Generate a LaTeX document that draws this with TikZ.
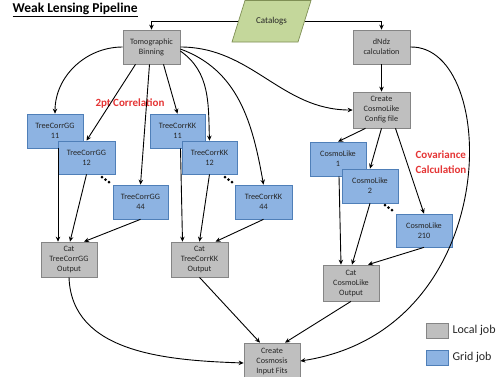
\documentclass[tikz,border=0pt]{standalone}
\usepackage{fontspec}
\setmainfont{Carlito}
\usetikzlibrary{arrows.meta,shapes.geometric}
\definecolor{lfill}{HTML}{BFBFBF}
\definecolor{ldraw}{HTML}{858585}
\definecolor{gfill}{HTML}{8DB3E2}
\definecolor{gdraw}{HTML}{4F7FB8}
\definecolor{cfill}{HTML}{C4D79B}
\definecolor{cdraw}{HTML}{7F8F55}
\definecolor{redtxt}{HTML}{E53535}
\tikzset{
  jobbox/.style={draw, line width=0.7pt, align=center, inner sep=0pt,
    font=\fontsize{8.2}{10}\selectfont, text=black!85},
  local/.style={jobbox, fill=lfill, draw=ldraw},
  grid/.style={jobbox, fill=gfill, draw=gdraw},
  conn/.style={line width=0.9pt, -{Stealth[length=5pt,width=4.5pt]}},
  dotmark/.style={fill=black, draw=none, circle, inner sep=0pt, minimum size=3pt},
}
\begin{document}
\begin{tikzpicture}[x=1pt,y=-1pt]
\useasboundingbox (0,0) rectangle (501,376);
\fill[white] (0,0) rectangle (501,376);
\begin{scope}
\clip (0,0) rectangle (501,376);
% title
\node[anchor=west, font=\bfseries\fontsize{13.5}{15}\selectfont] (title) at (9,10) {\underline{Weak Lensing Pipeline}};
% catalogs parallelogram
\draw[fill=cfill, draw=cdraw, line width=0.7pt] (245,0.5) -- (311,0.5) -- (298,42) -- (232,42) -- cycle;
\node[minimum width=66pt, minimum height=20pt, inner sep=0pt, font=\fontsize{9}{11}\selectfont, text=black!85] (catalogs) at (271.5,21) {Catalogs};
% local nodes
\node[local, minimum width=57pt, minimum height=34pt] (tomo) at (151.5,47) {Tomographic\\Binning};
\node[local, minimum width=57pt, minimum height=34pt] (dndz) at (381.5,47) {dNdz\\calculation};
\node[local, minimum width=57pt, minimum height=36pt] (config) at (381.5,110) {Create\\CosmoLike\\Config file};
\node[local, minimum width=56pt, minimum height=35pt] (catgg) at (69,259.5) {Cat\\TreeCorrGG\\Output};
\node[local, minimum width=57pt, minimum height=35pt] (catkk) at (199.5,259.5) {Cat\\TreeCorrKK\\Output};
\node[local, minimum width=56pt, minimum height=36pt] (catcl) at (351,283) {Cat\\CosmoLike\\Output};
\node[local, minimum width=56pt, minimum height=36pt] (cosmosis) at (272,361) {Create\\Cosmosis\\Input Fits};
% grid nodes
\node[grid, minimum width=56pt, minimum height=34pt] (gg11) at (55,131) {TreeCorrGG\\11};
\node[grid, minimum width=57pt, minimum height=33pt] (gg12) at (86.5,157.5) {TreeCorrGG\\12};
\node[grid, minimum width=55pt, minimum height=34pt] (gg44) at (140.5,202) {TreeCorrGG\\44};
\node[grid, minimum width=55pt, minimum height=34pt] (kk11) at (177.5,131) {TreeCorrKK\\11};
\node[grid, minimum width=55pt, minimum height=33pt] (kk12) at (209.5,157.5) {TreeCorrKK\\12};
\node[grid, minimum width=57pt, minimum height=34pt] (kk44) at (263.5,202) {TreeCorrKK\\44};
\node[grid, minimum width=56pt, minimum height=34pt] (cl1) at (338,159) {CosmoLike\\1};
\node[grid, minimum width=56pt, minimum height=34pt] (cl2) at (370,186) {CosmoLike\\2};
\node[grid, minimum width=56pt, minimum height=33pt] (cl210) at (424,230.5) {CosmoLike\\210};
% red labels
\node[font=\bfseries\fontsize{11}{13}\selectfont, text=redtxt] (twopt) at (130,103) {2pt Correlation};
\node[font=\bfseries\fontsize{11}{15.5}\selectfont, text=redtxt, align=left] (cov) at (441,162) {Covariance\\Calculation};
% dots
\foreach \x/\y in {102/177,105.5/179.5,109/182,225/177,228.5/179.5,232/182,385/205,388.5/207.5,392/210}
  \node[dotmark] at (\x,\y) {};
% connectors
\draw[conn] (catalogs.west) -| (tomo.north);
\draw[conn] (catalogs.east) -| (dndz.north);
\draw[conn] (tomo.west) to[out=180,in=90] (gg11.north);
\draw[conn] ([xshift=-16pt]tomo.south) -- (gg12.north);
\draw[conn] ([xshift=-2pt]tomo.south) -- (gg44.north);
\draw[conn] ([xshift=12pt]tomo.south) -- (kk11.north);
\draw[conn] ([yshift=-4pt]tomo.east) to[out=-35,in=92] (kk12.north);
\draw[conn] ([yshift=-2pt]tomo.east) to[out=-20,in=100] (kk44.north);
\draw[conn] (tomo.east) to[out=0,in=180] (config.west);
\draw[conn] (dndz.south) -- (config.north);
\draw[conn] (dndz.east) .. controls (500,45) and (505,330) .. (cosmosis.east);
\draw[conn] ([xshift=-16pt]config.south) -- (cl1.north);
\draw[conn] ([xshift=0pt]config.south) -- (cl2.north);
\draw[conn] ([xshift=14pt]config.south) -- (cl210.north);
\draw[conn] ([xshift=3pt]gg11.south) -- ([xshift=-11pt]catgg.north);
\draw[conn] (gg12.south) -- ([xshift=1pt]catgg.north);
\draw[conn] (gg44.south) -- ([xshift=15pt]catgg.north);
\draw[conn] ([xshift=3pt]kk11.south) -- ([xshift=-17pt]catkk.north);
\draw[conn] (kk12.south) -- ([xshift=0pt]catkk.north);
\draw[conn] (kk44.south) -- ([xshift=16pt]catkk.north);
\draw[conn] ([xshift=1pt]cl1.south) -- ([xshift=-10pt]catcl.north);
\draw[conn] (cl2.south) -- ([xshift=1pt]catcl.north);
\draw[conn] (cl210.south) -- ([xshift=17pt]catcl.north);
\draw[conn] (catgg.south) to[out=-88,in=178] ([yshift=-2pt]cosmosis.west);
\draw[conn] (catkk.south) -- ([xshift=-12pt]cosmosis.north);
\draw[conn] (catcl.south) -- ([xshift=13pt]cosmosis.north);
% legend
\node[local, minimum width=22pt, minimum height=15pt] (leglocal) at (437,330.5) {};
\node[anchor=west, font=\fontsize{12}{14}\selectfont, text=black!85] (leglocaltxt) at (449,330.5) {Local job};
\node[grid, minimum width=22pt, minimum height=15pt] (leggrid) at (437,357.5) {};
\node[anchor=west, font=\fontsize{12}{14}\selectfont, text=black!85] (leggridtxt) at (449,357.5) {Grid job};
\end{scope}
\end{tikzpicture}
\end{document}
